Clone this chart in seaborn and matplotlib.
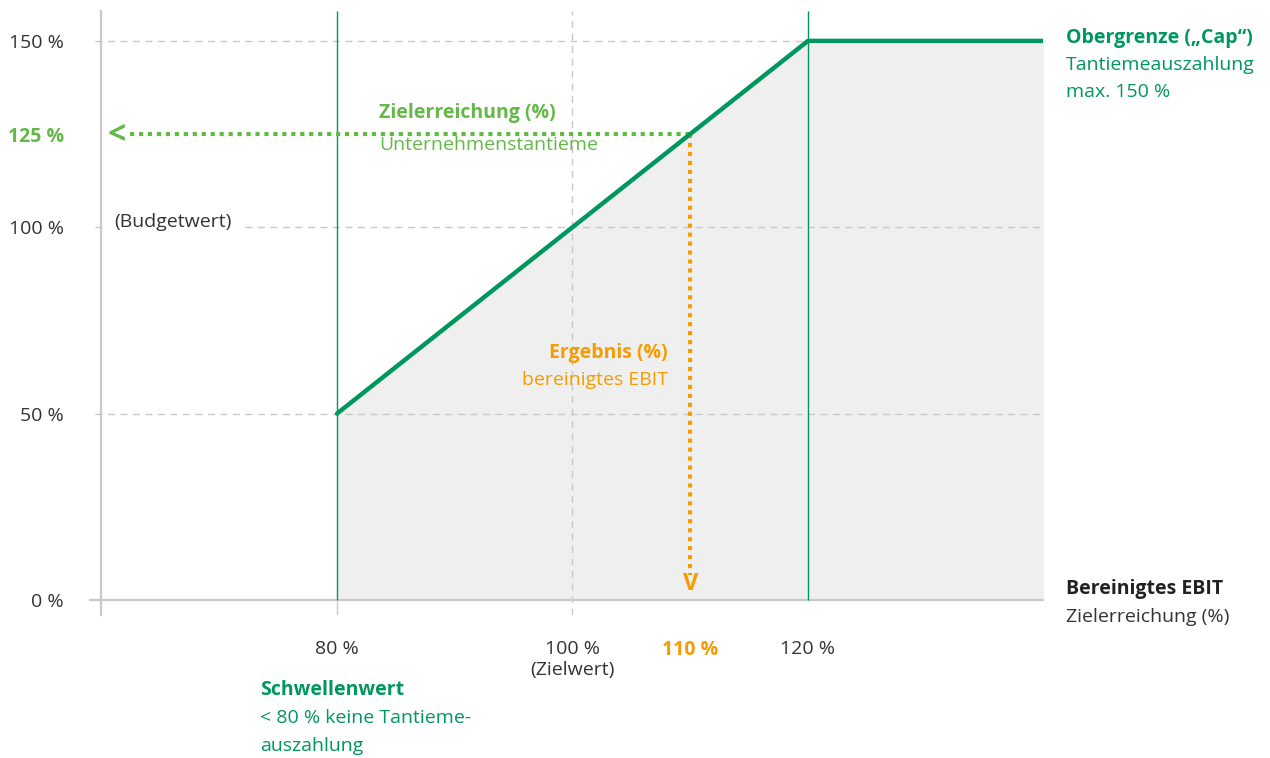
import numpy as np
import pandas as pd
import matplotlib.pyplot as plt
import seaborn as sns

# EBIT target achievement (%) -> company bonus payout (%)
ebit = [80, 120, 140]
payout = [50, 150, 150]
result_ebit = 110
result_payout = 125
grid_y = [50, 100, 150]
y_ticks = [0, 50, 100, 125, 150]
y_labels = ['0 %', '50 %', '100 %', '125 %', '150 %']
x_ticks = [80, 100, 110, 120]
x_labels = ['80 %', '100 %\n(Zielwert)', '110 %', '120 %']

dark_green = '#00975f'
light_green = '#63b846'
orange = '#f49c00'
grey = '#c9c9c9'
txt = '#333333'
fs = 14

sns.set_theme(style='white')
plt.rcParams['font.family'] = ['Open Sans', 'DejaVu Sans']

fig = plt.figure(figsize=(12.7, 7.58), dpi=100)
ax = fig.add_axes([0.0799, 0.1888, 0.7417, 0.7966])
ax.set_xlim(60, 140)
ax.set_ylim(-4, 158)

df = pd.DataFrame({'ebit': ebit, 'payout': payout})

# grey area under the payout curve
ax.fill_between(df['ebit'], df['payout'], 0, color='#efefef', lw=0, zorder=1)

# grid / guide lines
for y in grid_y:
    ax.axhline(y, xmin=-0.007, color=grey, lw=1, ls=(0, (5, 4)), clip_on=False, zorder=2)
ax.axvline(100, color=grey, lw=1, ls=(0, (5, 4)), zorder=2)
ax.axhline(0, xmin=-0.012, color=grey, lw=1.6, clip_on=False, zorder=3)
ax.vlines([ebit[0], ebit[1]], 0, 158, color=dark_green, lw=1, zorder=3)
ax.vlines([ebit[0]], -4, 0, color=grey, lw=1, zorder=3)

# payout curve
sns.lineplot(data=df, x='ebit', y='payout', ax=ax, color=dark_green, lw=3.2, zorder=5)

# example: 110 % EBIT -> 125 % payout
ax.plot([62.4, result_ebit], [result_payout, result_payout], color=light_green,
        lw=3, ls=(0, (1, 1.15)), solid_capstyle='butt', zorder=4)
ax.text(60.5, result_payout - 0.5, '<', color=light_green, fontsize=23,
        fontweight='bold', ha='left', va='center', zorder=4)
ax.plot([result_ebit, result_ebit], [result_payout, 6.7], color=orange,
        lw=3, ls=(0, (1, 1.15)), solid_capstyle='butt', zorder=4)
ax.text(result_ebit, 4.2, 'V', color=orange, fontsize=17, fontweight='bold',
        ha='center', va='center', zorder=4)

# axes styling
sns.despine(ax=ax, bottom=True)
ax.spines['left'].set_color(grey)
ax.spines['left'].set_linewidth(1.6)
ax.set_xlabel('')
ax.set_ylabel('')
ax.set_xticks(x_ticks)
ax.set_xticklabels(x_labels)
ax.set_yticks(y_ticks)
ax.set_yticklabels(y_labels)
ax.tick_params(axis='x', length=0, pad=18, labelsize=fs, colors=txt)
ax.tick_params(axis='y', length=0, pad=27, labelsize=fs, colors=txt)
for lab in ax.get_xticklabels():
    if lab.get_text() == '110 %':
        lab.set_color(orange)
        lab.set_fontweight('bold')
for lab in ax.get_yticklabels():
    if lab.get_text() == '125 %':
        lab.set_color(light_green)
        lab.set_fontweight('bold')

# annotations
ax.text(61.1, 101.5, '(Budgetwert)', color=txt, fontsize=fs, ha='left', va='center',
        bbox=dict(facecolor='white', edgecolor='none', pad=6), zorder=3)
ax.text(83.6, 130.7, 'Zielerreichung (%)', color=light_green, fontsize=fs,
        fontweight='bold', ha='left', va='center', zorder=6)
ax.text(83.6, 122.1, 'Unternehmenstantieme', color=light_green, fontsize=fs,
        ha='left', va='center', zorder=6)
ax.text(108.1, 66.3, 'Ergebnis (%)', color=orange, fontsize=fs, fontweight='bold',
        ha='right', va='center', zorder=6)
ax.text(108.1, 59.0, 'bereinigtes EBIT', color=orange, fontsize=fs,
        ha='right', va='center', zorder=6)

ax.text(141.9, 150.8, 'Obergrenze („Cap“)', color=dark_green, fontsize=fs,
        fontweight='bold', ha='left', va='center', clip_on=False)
ax.text(141.9, 143.5, 'Tantiemeauszahlung', color=dark_green, fontsize=fs,
        ha='left', va='center', clip_on=False)
ax.text(141.9, 136.3, 'max. 150 %', color=dark_green, fontsize=fs,
        ha='left', va='center', clip_on=False)

ax.text(141.9, 2.9, 'Bereinigtes EBIT', color='#222222', fontsize=fs,
        fontweight='bold', ha='left', va='center', clip_on=False)
ax.text(141.9, -4.6, 'Zielerreichung (%)', color=txt, fontsize=fs,
        ha='left', va='center', clip_on=False)

ax.text(73.5, -24.1, 'Schwellenwert', color=dark_green, fontsize=fs,
        fontweight='bold', ha='left', va='center', clip_on=False)
ax.text(73.5, -31.6, '< 80 % keine Tantieme-', color=dark_green, fontsize=fs,
        ha='left', va='center', clip_on=False)
ax.text(73.5, -39.1, 'auszahlung', color=dark_green, fontsize=fs,
        ha='left', va='center', clip_on=False)

fig.savefig('out.png', dpi=100, facecolor='white')
